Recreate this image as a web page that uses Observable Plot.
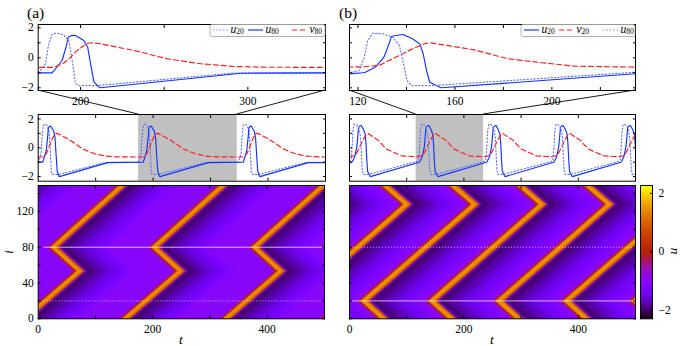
<!DOCTYPE html>
<html><head><meta charset="utf-8">
<script src="https://cdn.jsdelivr.net/npm/d3@7"></script>
<script src="https://cdn.jsdelivr.net/npm/@observablehq/plot@0.6"></script>
<style>
html,body{margin:0;padding:0;background:#fff;}
#fig{position:relative;width:692px;height:346px;overflow:hidden;font-family:"Liberation Serif","Times New Roman",serif;}
#fig svg{position:absolute;overflow:visible;max-width:none;}
#fig svg text{font-family:"Liberation Serif","Times New Roman",serif;}
</style></head><body><div id="fig"></div>
<script>
// ---------------- panel (a) data ----------------
const aZoom = [174.7, 346.4];
const aU20 = [[0,-1.0],[2,-0.85],[5,-0.4],[7,0.93],[9,1.55],[11,1.64],[14,1.6],[16,1.49],[19,1.15],[21,-0.18],[23,-1.73],[25,-1.85],[36,-1.85],[117,-1.02],
[174,-1.0],[176,-0.85],[179,-0.4],[181,0.93],[183,1.55],[185,1.64],[188,1.6],[190,1.49],[193,1.15],[195,-0.18],[197,-1.73],[199,-1.85],[210,-1.85],[291,-1.02],
[348,-1.0],[350,-0.85],[353,-0.4],[355,0.93],[357,1.55],[359,1.64],[362,1.6],[364,1.49],[367,1.15],[369,-0.18],[371,-1.73],[373,-1.85],[384,-1.85],[465,-1.02],[500,-1.0]];
const aU80 = [[0,-1.0],[8,-1.0],[10,-0.73],[14,-0.18],[16.6,0.82],[17.6,1.37],[20,1.5],[22,1.49],[27,1.15],[29.3,0.7],[31,-0.4],[33,-1.6],[36,-1.96],[37,-2.0],[121,-1.03],
[183,-1.0],[185,-0.73],[189,-0.18],[191.6,0.82],[192.6,1.37],[195,1.5],[197,1.49],[202,1.15],[204.3,0.7],[206,-0.4],[208,-1.6],[211,-1.96],[212,-2.0],[296,-1.03],
[357,-1.0],[359,-0.73],[363,-0.18],[365.6,0.82],[366.6,1.37],[369,1.5],[371,1.49],[376,1.15],[378.3,0.7],[380,-0.4],[382,-1.6],[385,-1.96],[386,-2.0],[470,-1.03],[500,-1.03]];
const aV80 = [[0,-0.65],[8,-0.62],[12,-0.51],[15,-0.35],[18,-0.07],[23,0.49],[29,0.97],[32,1.0],[36,0.95],[57,0.49],[77,-0.07],[97,-0.4],[117,-0.58],[136,-0.63],[183,-0.64],
[187,-0.51],[190,-0.35],[193,-0.07],[198,0.49],[204,0.97],[207,1.0],[211,0.95],[232,0.49],[252,-0.07],[272,-0.4],[292,-0.58],[311,-0.63],[357,-0.64],
[361,-0.51],[364,-0.35],[367,-0.07],[372,0.49],[378,0.97],[381,1.0],[385,0.95],[406,0.49],[426,-0.07],[446,-0.4],[466,-0.58],[485,-0.63],[500,-0.64]];
const aMarkedNodes = [20, 80];      // dotted, solid
const aMarkStart = 10;
// wave fronts [t0, i0, t1, i1]
const aFronts = [[-157,80,-37,149],[-157,80,-111,53.5],[-32,0,64.5,53.5],
[18.5,80,138.5,149],[18.5,80,64.5,53.5],[143.5,0,240.4,53.5],
[194.4,80,314.4,149],[194.4,80,240.4,53.5],[319.4,0,415.5,53.5],
[369.5,80,489.5,149],[369.5,80,415.5,53.5],[494.5,0,590,53.5]];
const aProfileDt = [-6,-4,0,2.6,3.6,6,8,13,15.3,17,19,22,23,107];
const aProfileU  = [-1.0,-0.73,-0.18,0.82,1.37,1.5,1.49,1.15,0.7,-0.4,-1.6,-1.96,-2.0,-1.03];

// ---------------- panel (b) data ----------------
const bZoom = [116.5, 234.5];
const bU20 = [[0,-1.03],[4,-1.0],[5.1,-0.96],[9.2,-0.62],[12.7,0.04],[14.8,0.93],[15.8,1.42],[17.6,1.49],[20.6,1.55],[24.5,1.27],[27.5,0.93],[28.9,0.27],[30.3,-0.85],[31.6,-1.63],[35.8,-1.96],[36.5,-2.0],
[122,-1.0],[123.1,-0.96],[127.2,-0.62],[130.7,0.04],[132.8,0.93],[133.8,1.42],[135.6,1.49],[138.6,1.55],[142.5,1.27],[145.5,0.93],[146.9,0.27],[148.3,-0.85],[149.6,-1.63],[153.8,-1.96],[154.5,-2.0],
[239.5,-1.0],[240.6,-0.96],[244.7,-0.62],[248.2,0.04],[250.3,0.93],[251.3,1.42],[253.1,1.49],[256.1,1.55],[260,1.27],[263,0.93],[264.4,0.27],[265.8,-0.85],[267.1,-1.63],[271.3,-1.96],[272,-2.0],
[357,-1.0],[358.1,-0.96],[362.2,-0.62],[365.7,0.04],[367.8,0.93],[368.8,1.42],[370.6,1.49],[373.6,1.55],[377.5,1.27],[380.5,0.93],[381.9,0.27],[383.3,-0.85],[384.6,-1.63],[388.8,-1.96],[389.5,-2.0],
[474.5,-1.0],[475.6,-0.96],[479.7,-0.62],[483.2,0.04],[485.3,0.93],[486.3,1.42],[488.1,1.49],[491.1,1.55],[495,1.27],[498,0.93],[499.4,0.27],[500.8,-0.85]];
const bV20 = [[0,-0.62],[4,-0.6],[10.7,-0.51],[17.6,0.04],[24.5,0.6],[30,0.97],[32,1.0],[50,0.53],[64,-0.07],[78,-0.33],[91.6,-0.56],[116,-0.62],
[122,-0.6],[128.7,-0.51],[135.6,0.04],[142.5,0.6],[148,0.97],[150,1.0],[168,0.53],[182,-0.07],[196,-0.33],[209.6,-0.56],[234,-0.62],
[239.5,-0.6],[246.2,-0.51],[253.1,0.04],[260,0.6],[265.5,0.97],[267.5,1.0],[285.5,0.53],[299.5,-0.07],[313.5,-0.33],[327.1,-0.56],[351.5,-0.62],
[357,-0.6],[363.7,-0.51],[370.6,0.04],[377.5,0.6],[383,0.97],[385,1.0],[403,0.53],[417,-0.07],[431,-0.33],[444.6,-0.56],[469,-0.62],
[474.5,-0.6],[481.2,-0.51],[488.1,0.04],[495,0.6],[500.5,0.97]];
const bU80 = [[0,-0.95],[2.5,-0.85],[4.6,0.04],[6,1.15],[8.1,1.64],[12.2,1.6],[16.4,1.37],[19.1,0.82],[20.8,-0.4],[22.2,-1.51],[24,-1.85],[33,-1.85],
[118,-0.95],[120.5,-0.85],[122.6,0.04],[124,1.15],[126.1,1.64],[130.2,1.6],[134.4,1.37],[137.1,0.82],[138.8,-0.4],[140.2,-1.51],[142,-1.85],[151,-1.85],
[235.5,-0.95],[238,-0.85],[240.1,0.04],[241.5,1.15],[243.6,1.64],[247.7,1.6],[251.9,1.37],[254.6,0.82],[256.3,-0.4],[257.7,-1.51],[259.5,-1.85],[268.5,-1.85],
[353,-0.95],[355.5,-0.85],[357.6,0.04],[359,1.15],[361.1,1.64],[365.2,1.6],[369.4,1.37],[372.1,0.82],[373.8,-0.4],[375.2,-1.51],[377,-1.85],[386,-1.85],
[470.5,-0.95],[473,-0.85],[475.1,0.04],[476.5,1.15],[478.6,1.64],[482.7,1.6],[486.9,1.37],[489.6,0.82],[491.3,-0.4],[492.7,-1.51],[494.5,-1.85],[500,-1.85]];
const bMarkedNodes = [80, 20];      // dotted, solid
const bMarkStart = 5;
const bFronts = [[-220,20,-27,128],[-102,20,91.3,128],[16.3,20,210,128],[135,20,327.5,128],[252.5,20,445.5,128],[370.5,20,565,128],[490,20,685,128],
[-102,20,-67,0],[16.3,20,51.3,0],[135,20,170,0],[252.5,20,287.5,0],[370.5,20,405.5,0],[490,20,525,0],
[-65,149,-27,128],[53.3,149,91.3,128],[172,149,210,128],[289.5,149,327.5,128],[407.5,149,445.5,128],[527,149,565,128]];
const bProfileDt = [-7.7,-6.6,-2.5,1,3.1,4.1,5.9,8.9,12.8,15.8,17.2,18.6,19.9,24.1,24.8,109.9];
const bProfileU  = [-1.0,-0.96,-0.62,0.04,0.93,1.42,1.49,1.55,1.27,0.93,0.27,-0.85,-1.63,-1.96,-2.0,-1.0];

// ---------------- ticks / legends ----------------
const tMid = [100,200,300,400];
const tHeatLabels = [0,200,400];
const uTicks = [-2,-1,0,1,2];
const uLabels = [-2,0,2];
const iTicks = [0,20,40,60,80,100,120,140];
const iLabels = [0,40,80,120];
const aTopTicks = [200,250,300], aTopLabels = [200,300];
const bTopTicks = [120,140,160,180,200,220], bTopLabels = [120,160,200];
const cbDomain = [-2.3, 2.27];
const cbTicks = [-2,0,2];
const legendA = [["u","20","dot"],["u","80","solid"],["v","80","dash"]];
const legendB = [["u","20","solid"],["v","20","dash"],["u","80","dot"]];

// ---------------- helpers ----------------
const FONT = "Liberation Serif, Times New Roman, serif";
const minus = d => d < 0 ? "\u2212" + (-d) : String(d);
const STY = {
  solid: {stroke: "#1232ff"},
  dot:   {stroke: "#6272ff", strokeDasharray: "1.2,2.2"},
  dash:  {stroke: "#ff1c1c", strokeDasharray: "5,3"}
};
const NLEV = 44;
const pal = t => {
  const q = (Math.min(NLEV - 1, Math.max(0, Math.floor(t * NLEV))) + 0.5) / NLEV;
  const r = Math.sqrt(q), g = q * q * q, b = Math.max(0, Math.sin(2 * Math.PI * q));
  return d3.rgb(255 * r, 255 * g, 255 * b).formatHex();
};
const colorOpts = {type: "linear", domain: cbDomain, interpolate: pal, clamp: true};
const style = {background: "transparent", fontFamily: FONT, fontSize: "11.5px", color: "#000", overflow: "visible"};

function profileAt(dts, us, dt) {
  if (dt <= dts[0]) return us[0];
  if (dt >= dts[dts.length - 1]) return us[us.length - 1];
  const k = d3.bisectRight(dts, dt);
  const f = (dt - dts[k - 1]) / (dts[k] - dts[k - 1]);
  return us[k - 1] + f * (us[k] - us[k - 1]);
}
function field(fronts, dts, us) {
  return (t, i) => {
    let last = -Infinity;
    for (const [t0, i0, t1, i1] of fronts) {
      if (i < Math.min(i0, i1) || i > Math.max(i0, i1)) continue;
      const tau = t0 + (i - i0) * (t1 - t0) / (i1 - i0);
      if (t - tau >= dts[0] && tau > last) last = tau;
    }
    return last === -Infinity ? us[us.length - 1] : profileAt(dts, us, t - last);
  };
}
const lineMarks = list => list.map(([data, kind]) =>
  Plot.line(data, {x: d => d[0], y: d => d[1], strokeWidth: 1.15, clip: true, ...STY[kind]}));
const inX = v => [
  Plot.axisX({ticks: v, anchor: "bottom", tickSize: -3, tickFormat: () => "", label: null}),
  Plot.axisX({ticks: v, anchor: "top", tickSize: -3, tickFormat: () => "", label: null})];
const inY = v => [
  Plot.axisY({ticks: v, anchor: "left", tickSize: -3, tickFormat: () => "", label: null}),
  Plot.axisY({ticks: v, anchor: "right", tickSize: -3, tickFormat: () => "", label: null})];
const labX = (v, pad) => Plot.axisX({ticks: v, anchor: "bottom", tickSize: 0, tickPadding: pad, tickFormat: minus, label: null});
const labY = v => Plot.axisY({ticks: v, anchor: "left", tickSize: 0, tickPadding: 4.5, tickFormat: minus, label: null});

const fig = document.getElementById("fig");
function place(el, left, top) { el.style.left = left + "px"; el.style.top = top + "px"; fig.appendChild(el); return el; }

function topPlot(w, ml, mr, zoom, series, xt, xl, showY) {
  return Plot.plot({width: w, height: 110, marginLeft: ml, marginRight: mr, marginTop: 24, marginBottom: 20, style,
    x: {domain: zoom}, y: {domain: [-2.18, 2.22]},
    marks: [...lineMarks(series), Plot.frame({stroke: "#000"}), ...inX(xt), ...inY(uTicks), labX(xl, 6),
      ...(showY ? [labY(uLabels)] : [])]});
}
function midPlot(w, ml, mr, zoom, series, showY) {
  return Plot.plot({width: w, height: 82, marginLeft: ml, marginRight: mr, marginTop: 14, marginBottom: 1.3, style,
    x: {domain: [0, 500]}, y: {domain: [-2.32, 2.31]},
    marks: [Plot.rect([zoom], {x1: d => d[0], x2: d => d[1], fill: "#c0c0c0"}),
      ...lineMarks(series), Plot.frame({stroke: "#000"}), ...inX(tMid), ...inY(uTicks),
      ...(showY ? [labY(uLabels)] : [])]});
}
function heatPlot(w, ml, mr, fronts, dts, us, nodes, start, showY) {
  return Plot.plot({width: w, height: 164, marginLeft: ml, marginRight: mr, marginTop: 3, marginBottom: 27.7, style,
    x: {domain: [0, 500]}, y: {domain: [0, 149]}, color: colorOpts,
    marks: [
      Plot.raster({x1: 0, x2: 500, y1: 0, y2: 149, width: 500, height: 149, fill: field(fronts, dts, us)}),
      Plot.ruleY([nodes[1]], {x1: start, x2: 500, stroke: "#fff", strokeOpacity: 0.7, strokeWidth: 1}),
      Plot.ruleY([nodes[0]], {x1: start, x2: 500, stroke: "#fff", strokeOpacity: 0.7, strokeWidth: 1, strokeDasharray: "1,2"}),
      Plot.frame({stroke: "#000"}), ...inX(tMid), ...inY(iTicks), labX(tHeatLabels, 6),
      ...(showY ? [labY(iLabels)] : [])]});
}

// ---------------- build ----------------
const topA = place(topPlot(330, 37.7, 5, aZoom, [[aU20, "dot"], [aU80, "solid"], [aV80, "dash"]], aTopTicks, aTopLabels, true), 0, 0);
const midA = place(midPlot(330, 37.7, 5, aZoom, [[aU20, "dot"], [aU80, "solid"], [aV80, "dash"]], true), 0, 100);
place(heatPlot(330, 37.7, 6, aFronts, aProfileDt, aProfileU, aMarkedNodes, aMarkStart, true), 0, 182);
const topB = place(topPlot(300, 9, 5, bZoom, [[bU20, "solid"], [bV20, "dash"], [bU80, "dot"]], bTopTicks, bTopLabels, false), 340, 0);
const midB = place(midPlot(300, 9, 5, bZoom, [[bU20, "solid"], [bV20, "dash"], [bU80, "dot"]], false), 340, 100);
place(heatPlot(300, 9, 5, bFronts, bProfileDt, bProfileU, bMarkedNodes, bMarkStart, false), 340, 182);
place(Plot.plot({width: 56, height: 164, marginLeft: 4, marginRight: 40, marginTop: 3, marginBottom: 27.7, style,
  x: {domain: [0, 1], axis: null}, y: {domain: cbDomain}, color: colorOpts,
  marks: [
    Plot.raster({x1: 0, x2: 1, y1: cbDomain[0], y2: cbDomain[1], width: 1, height: NLEV, fill: (x, y) => y, imageRendering: "pixelated"}),
    Plot.frame({stroke: "#000"}),
    Plot.axisY({ticks: cbTicks, anchor: "right", tickSize: -3, tickFormat: () => "", label: null}),
    Plot.axisY({ticks: cbTicks, anchor: "right", tickSize: 0, tickPadding: 6, tickFormat: minus, label: null})]}), 636, 182);

// ---------------- overlay: connectors, legends, labels ----------------
const ov = d3.select(fig).append("svg").attr("width", 692).attr("height", 346)
  .style("left", "0px").style("top", "0px").style("font-family", FONT);
function lin(s) { return d3.scaleLinear(s.domain, s.range); }
function connectors(tp, tl, tt, mp, ml, mt, zoom) {
  const tx = lin(tp.scale("x")), ty = lin(tp.scale("y"));
  const mx = lin(mp.scale("x")), my = lin(mp.scale("y"));
  const y1 = tt + ty(ty.domain()[0]), y2 = mt + my(my.domain()[1]);
  for (const z of zoom)
    ov.append("line").attr("x1", tl + tx(z)).attr("y1", y1).attr("x2", ml + mx(z)).attr("y2", y2)
      .attr("stroke", "#1a1a1a").attr("stroke-width", 1);
}
connectors(topA, 0, 0, midA, 0, 100, aZoom);
connectors(topB, 340, 0, midB, 340, 100, bZoom);

function legend(x0, x1, entries) {
  ov.append("rect").attr("x", x0).attr("y", 24.5).attr("width", x1 - x0 - 0.5).attr("height", 12)
    .attr("rx", 2).attr("fill", "#fff").attr("stroke", "#a0a0a0").attr("stroke-width", 0.8);
  const offs = [3, 38, 82];
  entries.forEach(([sym, sub, kind], k) => {
    const sx = x0 + offs[k];
    ov.append("line").attr("x1", sx).attr("x2", sx + 15).attr("y1", 30).attr("y2", 30)
      .attr("stroke", STY[kind].stroke).attr("stroke-width", 1.15)
      .attr("stroke-dasharray", STY[kind].strokeDasharray || null);
    const t = ov.append("text").attr("x", sx + 17.5).attr("y", 32.5).attr("font-size", 11.5);
    t.append("tspan").attr("font-style", "italic").text(sym);
    t.append("tspan").attr("font-size", 7.5).attr("dy", 1.8).text(sub);
  });
}
legend(210, 325.5, legendA);
legend(521, 635.5, legendB);

const txt = (x, y, s, size, opts = {}) => {
  const e = ov.append("text").attr("x", x).attr("y", y).attr("font-size", size).text(s);
  if (opts.italic) e.attr("font-style", "italic");
  if (opts.anchor) e.attr("text-anchor", opts.anchor);
  if (opts.rot) e.attr("x", null).attr("y", null).attr("transform", `translate(${x},${y}) rotate(${opts.rot})`);
  return e;
};
txt(27, 17.5, "(a)", 15.5);
txt(339, 17.5, "(b)", 15.5);
txt(12.5, 252, "i", 12.5, {italic: true, anchor: "middle", rot: -90});
txt(181, 344, "t", 13.5, {italic: true, anchor: "middle"});
txt(492, 344, "t", 13.5, {italic: true, anchor: "middle"});
txt(677, 251, "u", 13.5, {italic: true, anchor: "middle", rot: -90});
</script></body></html>
